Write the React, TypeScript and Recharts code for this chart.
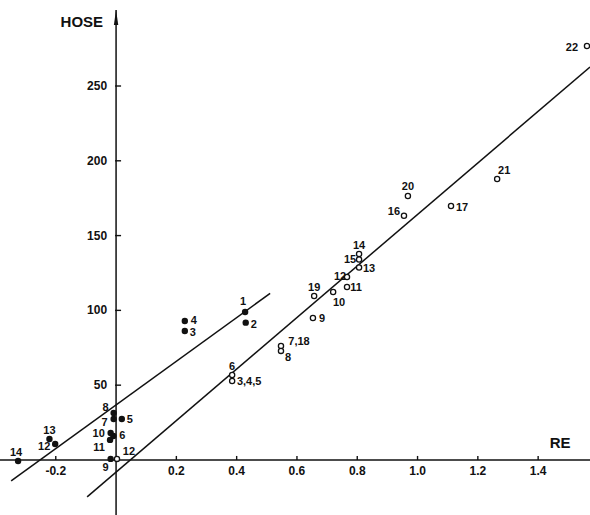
import React from 'react';
import { ScatterChart, XAxis, YAxis, Scatter, ReferenceLine, ReferenceDot } from 'recharts';

// ---- data ----
const filledLabels = ['1', '2', '3', '4', '5', '6', '7', '8', '9', '10', '11', '12', '13', '14'];
const filledX = [0.428, 0.43, 0.228, 0.228, 0.019, -0.009, -0.008, -0.008, -0.018, -0.018, -0.02, -0.202, -0.221, -0.325];
const filledY = [98.9, 91.8, 86.2, 92.9, 27.4, 16.0, 27.4, 31.4, 0.7, 18.0, 13.4, 10.7, 14.0, -0.7];

const openLabels = ['12', '6', '3,4,5', '7,18', '8', '9', '19', '10', '12', '11', '14', '15', '13', '16', '20', '17', '21', '22'];
const openX = [0.003, 0.385, 0.385, 0.547, 0.547, 0.653, 0.657, 0.72, 0.766, 0.766, 0.806, 0.806, 0.806, 0.955, 0.968, 1.111, 1.264, 1.562];
const openY = [0.7, 56.8, 52.8, 76.2, 72.9, 94.9, 109.6, 112.3, 122.3, 115.6, 137.7, 134.0, 128.7, 163.3, 176.5, 169.8, 187.8, 276.7];

const yTicks = [50, 100, 150, 200, 250];
const xTicks = [-0.2, 0.2, 0.4, 0.6, 0.8, 1.0, 1.2, 1.4];
const xTickLabels = ['-0.2', '0.2', '0.4', '0.6', '0.8', '1.0', '1.2', '1.4'];

const fitFilledX = [-0.348, 0.511];
const fitFilledY = [-14, 111.4];
const fitOpenX = [-0.096, 1.572];
const fitOpenY = [-24.7, 262.7];

const xDomain = [-0.385, 1.572];
const yDomain = [-36.8, 307.5];

// ---- label placement (layout only) ----
const filledLabelDx = [-2, 8, 8, 9, 8, 9, -9, -8, -5, -12, -11, -11, 0, -2];
const filledLabelDy = [-11, 1, 1, -1, 0, -1, 3, -6, 8, 0, 7, 2, -9, -9];
const openLabelDx = [12, 0, 17, 18, 7, 9, 0, 6, -7, 9, 0, -9, 10, -10, 0, 11, 7, -15];
const openLabelDy = [-8, -9, 0, -5, 6, 0, -9, 10, -1, 0, -9, -1, 1, -5, -10, 1, -9, 1];

const FONT = '"Liberation Sans", Arial, sans-serif';
const INK = '#111';

const filledData = filledLabels.map((label, i) => ({
  label, x: filledX[i], y: filledY[i], dx: filledLabelDx[i], dy: filledLabelDy[i],
}));
const openData = openLabels.map((label, i) => ({
  label, x: openX[i], y: openY[i], dx: openLabelDx[i], dy: openLabelDy[i],
}));

const makeShape = (filled: boolean) => (props: any) => {
  const { cx, cy, payload } = props;
  if (cx == null || cy == null) return <g />;
  return (
    <g>
      {filled ? (
        <circle cx={cx} cy={cy} r={3.2} fill={INK} />
      ) : (
        <circle cx={cx} cy={cy} r={2.6} fill="#fff" stroke={INK} strokeWidth={1.3} />
      )}
      <text
        x={cx + payload.dx}
        y={cy + payload.dy}
        textAnchor="middle"
        dominantBaseline="central"
        fontFamily={FONT}
        fontWeight="bold"
        fontSize={11}
        fill={INK}
      >
        {payload.label}
      </text>
    </g>
  );
};

const yTickShape = (label: string) => (props: any) => {
  const { cx, cy } = props;
  return (
    <g>
      <line x1={cx - 1} y1={cy} x2={cx + 5} y2={cy} stroke={INK} strokeWidth={1.4} />
      <text x={cx - 9} y={cy} textAnchor="end" dominantBaseline="central" fontFamily={FONT} fontWeight="bold" fontSize={12} fill={INK}>
        {label}
      </text>
    </g>
  );
};

const xTickShape = (label: string) => (props: any) => {
  const { cx, cy } = props;
  return (
    <g>
      <line x1={cx} y1={cy} x2={cx} y2={cy - 4} stroke={INK} strokeWidth={1.4} />
      <text x={cx} y={cy + 11} textAnchor="middle" dominantBaseline="central" fontFamily={FONT} fontWeight="bold" fontSize={12} fill={INK}>
        {label}
      </text>
    </g>
  );
};

const arrowShape = (props: any) => {
  const { cx, cy } = props;
  return <polygon points={`${cx - 2.2},${cy + 15} ${cx},${cy} ${cx + 2.2},${cy + 15}`} fill={INK} />;
};

const titleShape = (label: string, anchor: 'end' | 'middle') => (props: any) => {
  const { cx, cy } = props;
  return (
    <text x={cx} y={cy} textAnchor={anchor} dominantBaseline="central" fontFamily={FONT} fontWeight="bold" fontSize={15} fill={INK}>
      {label}
    </text>
  );
};

export default function App() {
  return (
    <div style={{ position: 'absolute', left: 0, top: 0, background: '#fff' }}>
      <ScatterChart width={590} height={515} margin={{ top: 0, right: 0, bottom: 0, left: 0 }}>
        <XAxis type="number" dataKey="x" domain={xDomain} allowDataOverflow hide />
        <YAxis type="number" dataKey="y" domain={yDomain} allowDataOverflow hide />

        {/* axes crossing at origin */}
        <ReferenceLine
          segment={[{ x: xDomain[0], y: 0 }, { x: xDomain[1], y: 0 }]}
          stroke={INK}
          strokeWidth={1.5}
          ifOverflow="visible"
        />
        <ReferenceLine
          segment={[{ x: 0, y: yDomain[0] }, { x: 0, y: 300.8 }]}
          stroke={INK}
          strokeWidth={1.5}
          ifOverflow="visible"
        />
        <ReferenceDot x={0} y={300.8} r={0} ifOverflow="visible" shape={arrowShape} />

        {yTicks.map((v) => (
          <ReferenceDot key={'y' + v} x={0} y={v} r={0} ifOverflow="visible" shape={yTickShape(String(v))} />
        ))}
        {xTicks.map((v, i) => (
          <ReferenceDot key={'x' + v} x={v} y={0} r={0} ifOverflow="visible" shape={xTickShape(xTickLabels[i])} />
        ))}

        <ReferenceDot x={-0.043} y={293.4} r={0} ifOverflow="visible" shape={titleShape('HOSE', 'end')} />
        <ReferenceDot x={1.473} y={12} r={0} ifOverflow="visible" shape={titleShape('RE', 'middle')} />

        {/* regression lines */}
        <ReferenceLine
          segment={[{ x: fitFilledX[0], y: fitFilledY[0] }, { x: fitFilledX[1], y: fitFilledY[1] }]}
          stroke={INK}
          strokeWidth={1.5}
          ifOverflow="visible"
        />
        <ReferenceLine
          segment={[{ x: fitOpenX[0], y: fitOpenY[0] }, { x: fitOpenX[1], y: fitOpenY[1] }]}
          stroke={INK}
          strokeWidth={1.5}
          ifOverflow="visible"
        />

        <Scatter data={filledData} dataKey="y" shape={makeShape(true)} isAnimationActive={false} />
        <Scatter data={openData} dataKey="y" shape={makeShape(false)} isAnimationActive={false} />
      </ScatterChart>
    </div>
  );
}
